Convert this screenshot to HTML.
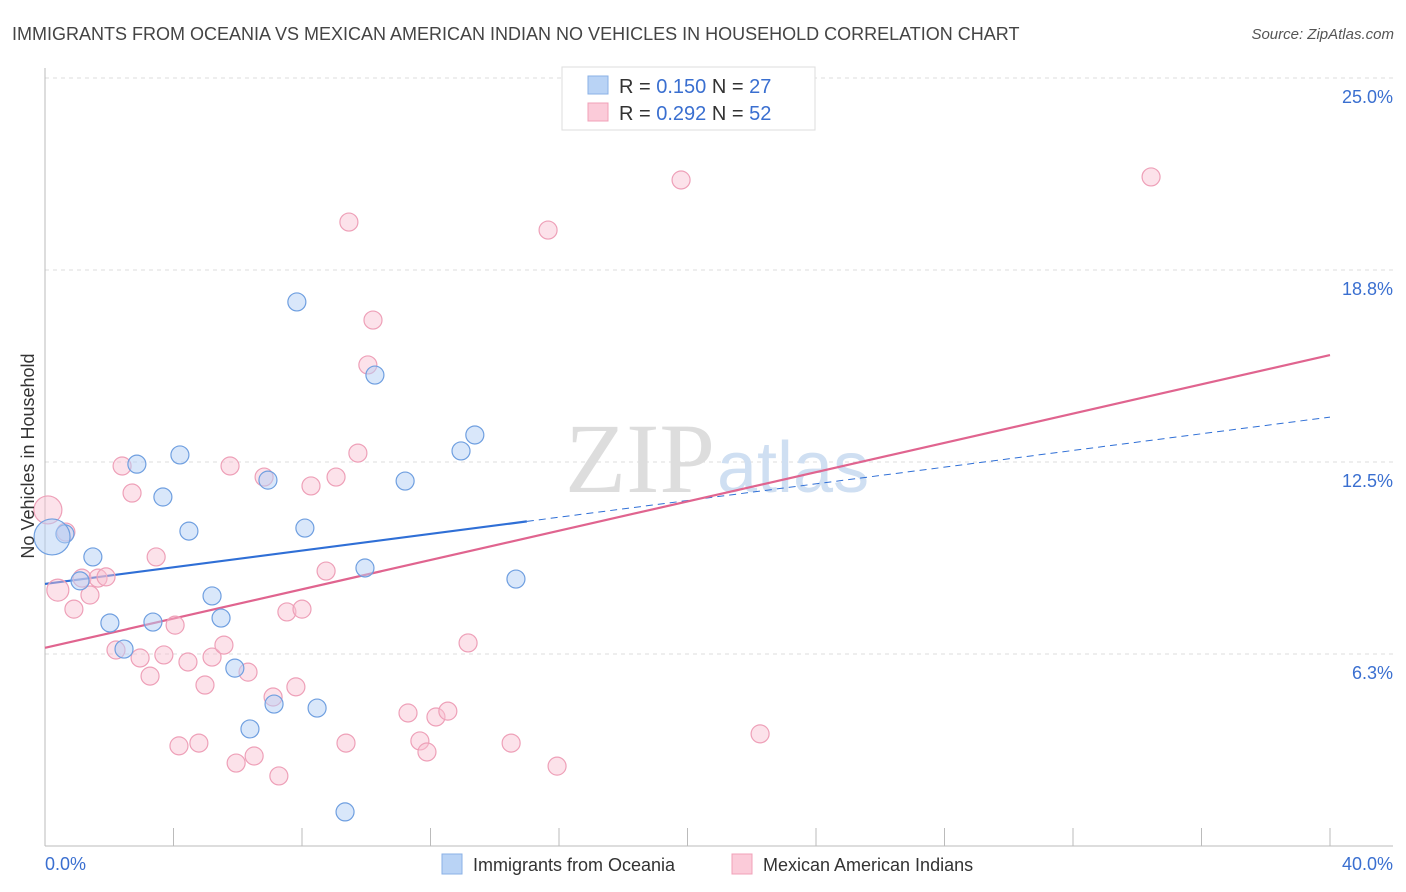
<!DOCTYPE html>
<html><head><meta charset="utf-8">
<style>
body{margin:0;background:#fff;font-family:"Liberation Sans",sans-serif;}
#wrap{position:relative;width:1406px;height:892px;overflow:hidden;}
</style></head>
<body>
<div id="wrap">
<svg id="chart" width="1406" height="892" xmlns="http://www.w3.org/2000/svg">
<text x="12" y="40" font-size="18" fill="#444">IMMIGRANTS FROM OCEANIA VS MEXICAN AMERICAN INDIAN NO VEHICLES IN HOUSEHOLD CORRELATION CHART</text>
<text x="1394" y="39" font-size="15" fill="#555" font-style="italic" text-anchor="end">Source: ZipAtlas.com</text>
<g id="grid"></g>
<text x="715" y="492" font-size="100" fill="#ddd" font-family="Liberation Serif,serif" text-anchor="end">ZIP</text>
<text x="717" y="492" font-size="72" fill="#cfdff2">atlas</text>
<g id="axes"></g>
<g id="lines"></g>
<g id="points"></g>
<text transform="translate(34,456) rotate(-90)" font-size="18" fill="#333" text-anchor="middle">No Vehicles in Household</text>
<text x="45" y="870" font-size="18" fill="#3a6fd0">0.0%</text>
<text x="1393" y="870" font-size="18" fill="#3a6fd0" text-anchor="end">40.0%</text>
<g>
<rect x="562" y="67" width="253" height="63" fill="#fff" stroke="#ddd"/>
<rect x="588" y="76" width="20" height="18" fill="#b9d3f5" stroke="#8ab0e6"/>
<rect x="588" y="103" width="20" height="18" fill="#fbcbd9" stroke="#f0a0b8"/>
<text x="619" y="93" font-size="20" fill="#333">R = <tspan fill="#3a6fd0">0.150</tspan>   N = <tspan fill="#3a6fd0">27</tspan></text>
<text x="619" y="120" font-size="20" fill="#333">R = <tspan fill="#3a6fd0">0.292</tspan>   N = <tspan fill="#3a6fd0">52</tspan></text>
</g>
<g>
<rect x="442" y="854" width="20" height="20" fill="#b9d3f5" stroke="#8ab0e6"/>
<text x="473" y="871" font-size="18" fill="#333">Immigrants from Oceania</text>
<rect x="732" y="854" width="20" height="20" fill="#fbcbd9" stroke="#f0a0b8"/>
<text x="763" y="871" font-size="18" fill="#333">Mexican American Indians</text>
</g>
</svg>
</div>
<script>
const yTicks=[6.25,12.5,18.75,25];
const yTickLabels=["6.3%","12.5%","18.8%","25.0%"];
const xTicks=[0,4,8,12,16,20,24,28,32,36,40];
const blueX=[0.62,1.49,1.09,2.02,2.46,3.36,2.86,3.67,4.20,4.48,5.20,5.48,5.91,6.38,7.13,6.94,7.84,8.09,8.47,9.96,10.27,11.21,12.95,13.38,14.66,9.34,0.22];
const blueY=[10.16,9.41,8.63,7.26,6.41,7.29,12.43,11.36,12.73,10.25,8.14,7.42,5.79,3.81,4.62,11.91,17.71,10.35,4.49,9.05,15.33,11.88,12.86,13.38,8.69,1.11,10.06];
const blueR=[9,9,9,9,9,9,9,9,9,9,9,9,9,9,9,9,9,9,9,9,9,9,9,9,9,9,18];
const pinkX=[0.09,0.40,0.65,0.90,1.15,1.40,1.65,1.90,2.21,2.40,2.71,2.96,3.27,3.46,3.70,4.05,4.17,4.45,4.79,4.98,5.20,5.57,5.76,5.95,6.32,6.51,6.82,7.10,7.28,7.53,7.81,8.00,8.28,8.75,9.06,9.37,9.46,9.74,10.05,10.21,11.30,11.67,11.89,12.17,12.54,13.17,14.51,15.66,15.94,19.80,22.26,34.43];
const pinkY=[10.94,8.33,10.22,7.71,8.72,8.17,8.72,8.76,6.38,12.37,11.49,6.12,5.53,9.41,6.22,7.19,3.26,5.99,3.35,5.24,6.15,6.54,12.37,2.70,5.66,2.93,12.01,4.85,2.28,7.62,5.18,7.71,11.72,8.95,12.01,3.35,20.31,12.79,15.66,17.12,4.33,3.42,3.06,4.20,4.39,6.61,3.35,20.05,2.60,21.68,3.65,21.78];
const pinkR=pinkX.map((v,i)=>i===0?14:(i===1?11:9));
const blueTrend=[8.53,0.1358];
const pinkTrend=[6.45,0.2383];
const blueSolidEnd=15.0;
const NS="http://www.w3.org/2000/svg";
const X=v=>45+v/40*1285;
const Y=v=>846-v/6.25*192;
function mk(tag,attrs,parent){const e=document.createElementNS(NS,tag);for(const k in attrs)e.setAttribute(k,attrs[k]);parent.appendChild(e);return e;}
const grid=document.getElementById('grid'),axes=document.getElementById('axes'),lines=document.getElementById('lines'),pts=document.getElementById('points');
yTicks.forEach((t,i)=>{
 const l=mk('line',{x1:45,x2:1393,y1:Y(t),y2:Y(t),stroke:'#ddd','stroke-dasharray':'4,4'},grid);
 
 
 const tx=mk('text',{x:1393,y:Y(t)+25,'font-size':18,fill:'#3a6fd0','text-anchor':'end'},grid);
 tx.textContent=yTickLabels[i];
 
 
});
const ax=mk('line',{x1:45,x2:1393,y1:846,y2:846,stroke:'#bbb'},axes);


const ay=mk('line',{x1:45,x2:45,y1:68,y2:846,stroke:'#bbb'},axes);


xTicks.forEach(t=>{
 const l=mk('line',{x1:X(t),x2:X(t),y1:828,y2:846,stroke:'#bbb'},axes);
 
 
});
function drawPts(xs,ys,rs,fill,stroke,name){
 xs.forEach((x,i)=>{
  const c=mk('circle',{cx:X(x),cy:Y(ys[i]),r:rs[i],fill:fill,stroke:stroke,'stroke-width':1.2},pts);
  
  
 });
}
drawPts(pinkX,pinkY,pinkR,'rgba(248,190,208,0.45)','#eea0b8','point-mexican-american-indians');
drawPts(blueX,blueY,blueR,'rgba(180,208,245,0.5)','#6f9fe0','point-immigrants-oceania');
const b1=mk('line',{x1:X(0),y1:Y(blueTrend[0]),x2:X(blueSolidEnd),y2:Y(blueTrend[0]+blueTrend[1]*blueSolidEnd),stroke:'#2f6fd6','stroke-width':2.2},lines);


const b2=mk('line',{x1:X(blueSolidEnd),y1:Y(blueTrend[0]+blueTrend[1]*blueSolidEnd),x2:X(40),y2:Y(blueTrend[0]+blueTrend[1]*40),stroke:'#2f6fd6','stroke-width':1,'stroke-dasharray':'7,5'},lines);


const p1=mk('line',{x1:X(0),y1:Y(pinkTrend[0]),x2:X(40),y2:Y(pinkTrend[0]+pinkTrend[1]*40),stroke:'#e0648f','stroke-width':2.2},lines);


</script>
</body></html>
